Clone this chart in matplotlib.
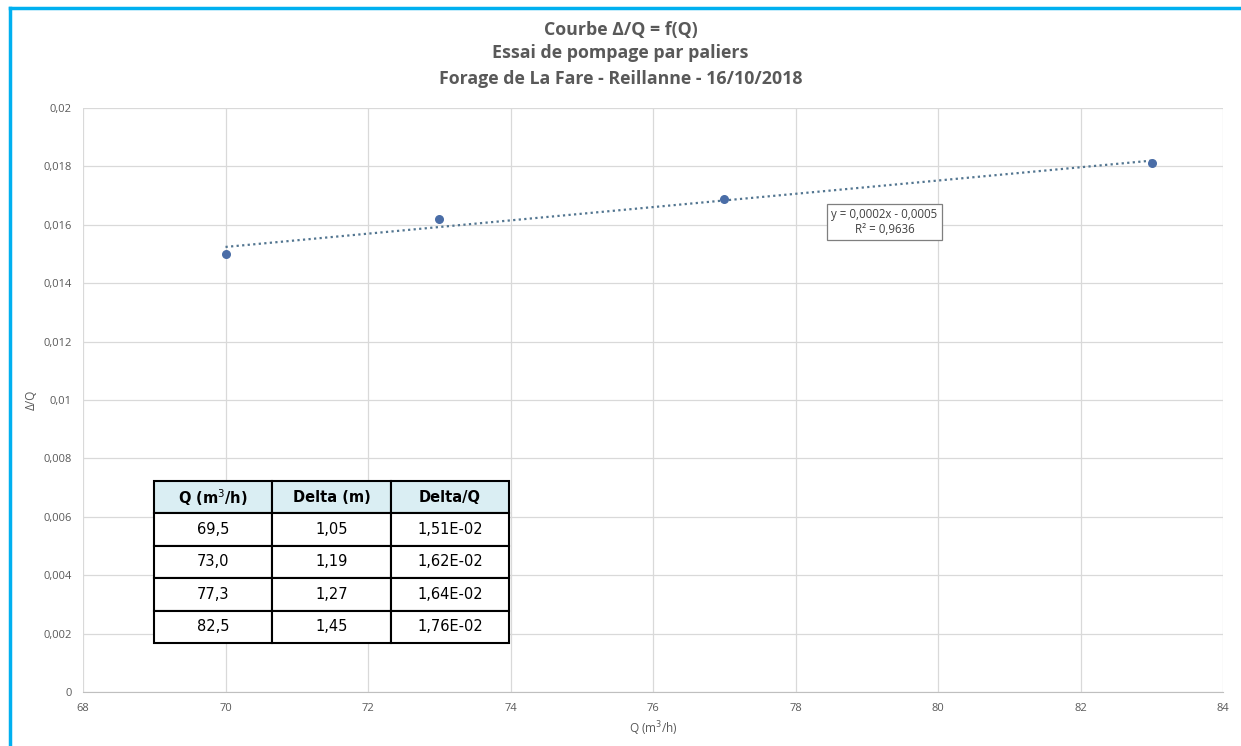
import numpy as np
import matplotlib.pyplot as plt

# points of the chart
q = np.array([70, 73, 77, 83])
dq = np.array([0.0150, 0.0162, 0.0169, 0.0181])

# table values
col_labels = ['Q (m$^3$/h)', 'Delta (m)', 'Delta/Q']
tab_q = ['69,5', '73,0', '77,3', '82,5']
tab_delta = ['1,05', '1,19', '1,27', '1,45']
tab_ratio = ['1,51E-02', '1,62E-02', '1,64E-02', '1,76E-02']

x_ticks = np.arange(68, 85, 2)
y_ticks = np.arange(0, 0.0201, 0.002)

def fr(v):
    s = ('%.3f' % v).rstrip('0').rstrip('.')
    return s.replace('.', ',')

plt.rcParams['font.family'] = ['Open Sans', 'DejaVu Sans']

fig = plt.figure(figsize=(12.41, 7.46), dpi=100)
ax = fig.add_axes([0.0669, 0.0724, 0.9186, 0.7828])

ax.scatter(q, dq, s=30, color='#4A6DA7', zorder=3)
a, b = np.polyfit(q, dq, 1)
xt = np.array([q.min(), q.max()])
ax.plot(xt, a * xt + b, linestyle=(0, (1, 1.5)), color='#527590', lw=1.6, zorder=2)

ax.set_xlim(68, 84)
ax.set_ylim(0, 0.02)
ax.set_xticks(x_ticks)
ax.set_xticklabels([str(v) for v in x_ticks])
ax.set_yticks(y_ticks)
ax.set_yticklabels([fr(v) for v in y_ticks])
ax.grid(True, color='#D9D9D9', lw=0.9)
ax.set_axisbelow(True)
for s in ['top', 'right', 'left']:
    ax.spines[s].set_visible(False)
ax.spines['bottom'].set_color('#BFBFBF')
ax.tick_params(length=0, labelsize=8, colors='#595959', pad=8)
ax.set_xlabel('Q (m$^3$/h)', fontsize=8.5, color='#595959', labelpad=4)
ax.set_ylabel('Δ/Q', fontsize=8.5, color='#595959', labelpad=4)

# trendline label
ax.text(0.703, 0.805, 'y = 0,0002x - 0,0005\nR² = 0,9636', transform=ax.transAxes,
        ha='center', va='center', fontsize=8.3, color='#404040', linespacing=1.25,
        bbox=dict(boxstyle='square,pad=0.35', fc='white', ec='#7F7F7F', lw=0.9))

fig.text(0.5, 0.96, 'Courbe Δ/Q = f(Q)', ha='center', va='center',
         fontsize=12.8, fontweight='bold', color='#595959')
fig.text(0.5, 0.929, 'Essai de pompage par paliers', ha='center', va='center',
         fontsize=12.8, fontweight='bold', color='#595959')
fig.text(0.5, 0.894, 'Forage de La Fare - Reillanne - 16/10/2018', ha='center', va='center',
         fontsize=12.8, fontweight='bold', color='#595959')

# embedded table
cells = [list(r) for r in zip(tab_q, tab_delta, tab_ratio)]
tab = ax.table(cellText=cells, colLabels=col_labels, cellLoc='center',
               bbox=[(154 - 83) / 1140, (692 - 643) / 584, (509 - 154) / 1140, (643 - 481) / 584])
tab.auto_set_font_size(False)
tab.set_zorder(10)
for (r, c), cell in tab.get_celld().items():
    cell.set_edgecolor('black')
    cell.set_linewidth(1.5)
    cell.set_facecolor('#DAEEF3' if r == 0 else 'white')
    cell.PAD = 0.02
    t = cell.get_text()
    t.set_fontsize(10.5)
    t.set_family(['DejaVu Sans'])
    t.set_clip_on(False)
    if r == 0:
        t.set_fontweight('bold')

# chart frame
fig.add_artist(plt.Line2D([10 / 1241, 10 / 1241], [0, 1 - 8 / 746], color='#00B0F0', lw=2.5))
fig.add_artist(plt.Line2D([10 / 1241, 1], [1 - 8 / 746, 1 - 8 / 746], color='#00B0F0', lw=2.5))

fig.savefig('out.png', dpi=100)
